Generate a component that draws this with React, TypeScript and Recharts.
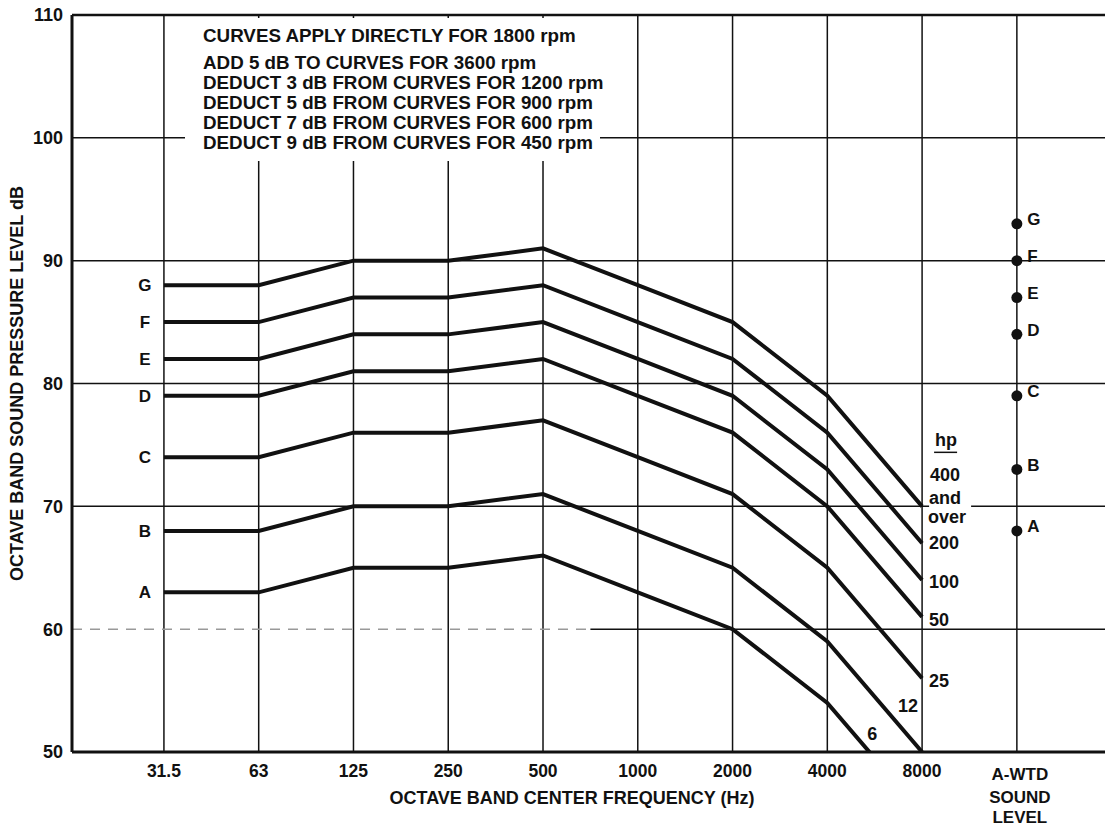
import React from 'react'
import { ComposedChart, Line, Scatter, XAxis, YAxis, ReferenceLine, LabelList } from 'recharts'

// octave band centre frequencies (index 9 is the A-weighted column)
const freqLabels = ['31.5', '63', '125', '250', '500', '1000', '2000', '4000', '8000']
const curveNames = ['G', 'F', 'E', 'D', 'C', 'B', 'A']
const curveG = [88, 88, 90, 90, 91, 88, 85, 79, 70]
const curveF = [85, 85, 87, 87, 88, 85, 82, 76, 67]
const curveE = [82, 82, 84, 84, 85, 82, 79, 73, 64]
const curveD = [79, 79, 81, 81, 82, 79, 76, 70, 61]
const curveC = [74, 74, 76, 76, 77, 74, 71, 65, 56]
const curveB = [68, 68, 70, 70, 71, 68, 65, 59, 50]
const curveA = [63, 63, 65, 65, 66, 63, 60, 54, 45]
const hpLabels = ['400 and over', '200', '100', '50', '25', '12', '6']
const awtdLevels = [93, 90, 87, 84, 79, 73, 68]
const yTicks = [50, 60, 70, 80, 90, 100, 110]
const notes = [
  'CURVES APPLY DIRECTLY FOR 1800 rpm',
  'ADD 5 dB TO CURVES FOR 3600 rpm',
  'DEDUCT 3 dB FROM CURVES FOR 1200 rpm',
  'DEDUCT 5 dB FROM CURVES FOR 900 rpm',
  'DEDUCT 7 dB FROM CURVES FOR 600 rpm',
  'DEDUCT 9 dB FROM CURVES FOR 450 rpm',
]

const curves = [curveG, curveF, curveE, curveD, curveC, curveB, curveA]
const data = freqLabels.map((f, i) => {
  const row: any = { i, freq: f }
  curveNames.forEach((n, k) => { row[n] = curves[k][i] })
  return row
})
const awtdData = awtdLevels.map((v, k) => ({ i: 9, level: v, name: curveNames[k] }))

const FONT = '"Liberation Sans", Arial, sans-serif'
const INK = '#111'
const FS = 18
const txt = { fontFamily: FONT, fontSize: FS, fontWeight: 'bold' as const, fill: INK }

const XTick = (props: any) => {
  const { x, y, payload } = props
  const v = payload.value
  if (v === 9) {
    return (
      <g>
        <text x={x + 3} y={y + 26} textAnchor="middle" {...txt} fontSize={17}>A-WTD</text>
        <text x={x + 3} y={y + 49} textAnchor="middle" {...txt} fontSize={17}>SOUND</text>
        <text x={x + 3} y={y + 69} textAnchor="middle" {...txt} fontSize={17}>LEVEL</text>
      </g>
    )
  }
  return (
    <text x={x} y={y + 23} textAnchor="middle" {...txt} fontSize={17.5}>
      {freqLabels[v]}
    </text>
  )
}

// letter at the start of each curve
const startLabel = (name: string) => (props: any) => {
  if (props.index !== 0) return null
  return (
    <text x={props.x - 19} y={props.y + 6} textAnchor="middle" {...txt} fontSize={17}>
      {name}
    </text>
  )
}

// hp rating at the end of each curve
const endLabel = (k: number) => (props: any) => {
  const { x, y, index } = props
  if (k === 6) {
    if (index !== 7) return null
    return <text x={x + 45} y={y + 37} textAnchor="middle" {...txt}>{hpLabels[k]}</text>
  }
  if (index !== 8) return null
  if (k === 5) {
    return <text x={x - 14} y={y - 40} textAnchor="middle" {...txt}>{hpLabels[k]}</text>
  }
  if (k === 0) {
    const [n, a, o] = hpLabels[0].split(' ')
    return (
      <g>
        <rect x={x + 7} y={y - 18} width={42} height={36} fill="#fff" />
        <text x={x + 24} y={y - 60} textAnchor="middle" {...txt}>hp</text>
        <line x1={x + 12} x2={x + 35} y1={y - 54} y2={y - 54} stroke={INK} strokeWidth={1.5} />
        <text x={x + 23} y={y - 25} textAnchor="middle" {...txt}>{n}</text>
        <text x={x + 23} y={y - 2} textAnchor="middle" {...txt}>{a}</text>
        <text x={x + 25} y={y + 17} textAnchor="middle" {...txt}>{o}</text>
      </g>
    )
  }
  const dy = [0, 5.5, 7.5, 9.5, 8.5][k]
  return <text x={x + 7} y={y + dy} textAnchor="start" {...txt}>{hpLabels[k]}</text>
}

const dotShape = (p: any) => <circle cx={p.cx} cy={p.cy} r={5.5} fill={INK} />

const dotLabel = (props: any) => (
  <text x={props.x + 15} y={props.y + 6} textAnchor="start" {...txt} fontSize={17}>
    {props.value}
  </text>
)

export default function App() {
  return (
    <div style={{ position: 'absolute', left: 0, top: 0, width: 1105, height: 826, background: '#fff' }}>
      <ComposedChart width={1105} height={826} data={data} margin={{ top: 15, right: 0, bottom: 0, left: 0 }}>
        <XAxis
          dataKey="i"
          type="number"
          domain={[-0.97, 9.93]}
          ticks={[0, 1, 2, 3, 4, 5, 6, 7, 8, 9]}
          allowDataOverflow
          height={74}
          tickLine={false}
          tickSize={0}
          tick={<XTick />}
          axisLine={{ stroke: INK, strokeWidth: 3 }}
          label={{
            content: (p: any) => (
              <text x={p.viewBox.x + 500} y={p.viewBox.y + 52} textAnchor="middle" {...txt}>
                OCTAVE BAND CENTER FREQUENCY (Hz)
              </text>
            ),
          }}
        />
        <YAxis
          type="number"
          domain={[50, 110]}
          ticks={yTicks}
          allowDataOverflow
          width={72}
          tickLine={false}
          tickSize={0}
          tickMargin={9}
          axisLine={{ stroke: INK, strokeWidth: 3 }}
          tick={{ fill: INK, fontFamily: FONT, fontSize: FS, fontWeight: 'bold' }}
          label={{
            content: (p: any) => {
              const cx = 17
              const cy = p.viewBox.y + p.viewBox.height / 2
              return (
                <text x={cx} y={cy} transform={`rotate(-90 ${cx} ${cy})`} textAnchor="middle" dominantBaseline="central" {...txt}>
                  OCTAVE BAND SOUND PRESSURE LEVEL dB
                </text>
              )
            },
          }}
        />

        {[0, 1, 2, 3, 4, 5, 6, 7, 8, 9].map((v) => (
          <ReferenceLine key={'v' + v} x={v} stroke={INK} strokeWidth={1.5} />
        ))}
        {[70, 80, 90, 100].map((v) => (
          <ReferenceLine key={'h' + v} y={v} stroke={INK} strokeWidth={1.5} />
        ))}
        <ReferenceLine y={110} stroke={INK} strokeWidth={2.5} />
        <ReferenceLine segment={[{ x: -0.97, y: 60 }, { x: 4.5, y: 60 }]} stroke="#999" strokeWidth={1.5} strokeDasharray="10 8" />
        <ReferenceLine segment={[{ x: 4.5, y: 60 }, { x: 9.93, y: 60 }]} stroke={INK} strokeWidth={1.5} />

        {curveNames.map((n, k) => (
          <Line key={n} dataKey={n} type="linear" stroke={INK} strokeWidth={4} dot={false} isAnimationActive={false}>
            <LabelList dataKey={n} content={startLabel(n)} />
            <LabelList dataKey={n} content={endLabel(k)} />
          </Line>
        ))}

        <Scatter data={awtdData} dataKey="level" shape={dotShape} isAnimationActive={false}>
          <LabelList dataKey="name" content={dotLabel} />
        </Scatter>
      </ComposedChart>

      <div
        style={{
          position: 'absolute', left: 185, top: 18, width: 415, height: 143, background: '#fff',
          fontFamily: FONT, fontSize: 18.8, fontWeight: 'bold', color: INK, lineHeight: '20px',
        }}
      >
        <div style={{ position: 'absolute', left: 18, top: 8, whiteSpace: 'nowrap' }}>{notes[0]}</div>
        {notes.slice(1).map((t, k) => (
          <div key={t} style={{ position: 'absolute', left: 18, top: 35 + k * 20, whiteSpace: 'nowrap' }}>{t}</div>
        ))}
      </div>
    </div>
  )
}
